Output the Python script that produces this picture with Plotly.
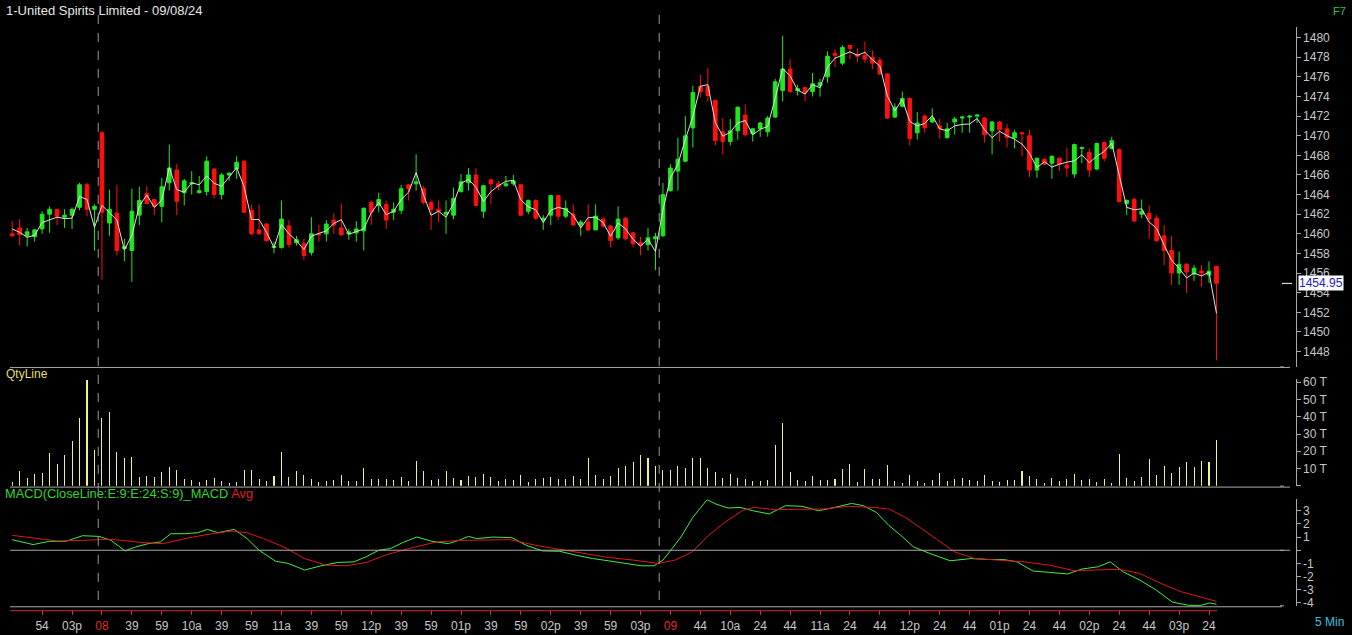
import plotly.graph_objects as go

# ---------------- data ----------------
opens = [1460.0, 1460.6, 1459.8, 1459.7, 1460.5, 1462.0, 1462.5, 1461.7, 1461.9, 1462.7,
         1465.0, 1462.5, 1470.3, 1461.1, 1462.1, 1458.5, 1458.3, 1461.9, 1464.1, 1463.5,
         1462.8, 1465.2, 1466.5, 1464.2, 1465.1, 1464.2, 1464.3, 1466.6, 1464.0, 1466.0,
         1466.6, 1467.4, 1462.4, 1460.4, 1461.0, 1458.6, 1458.6, 1460.8, 1459.1, 1459.0,
         1458.1, 1460.0, 1460.0, 1461.4, 1460.6, 1460.0, 1460.1, 1460.3, 1463.2, 1462.9,
         1463.0, 1462.2, 1462.4, 1465.0, 1465.1, 1464.6, 1463.2, 1462.5, 1462.0, 1461.9,
         1464.3, 1465.2, 1466.0, 1462.3, 1465.5, 1465.1, 1464.9, 1465.1, 1465.0, 1462.3,
         1463.4, 1461.4, 1461.9, 1463.9, 1461.8, 1462.0, 1460.9, 1461.2, 1460.4, 1461.5,
         1460.8, 1459.6, 1461.6, 1460.1, 1459.1, 1458.9, 1459.5, 1459.8, 1464.4, 1466.4,
         1467.4, 1470.8, 1475.0, 1475.0, 1473.6, 1470.4, 1469.4, 1470.5, 1472.1, 1470.2,
         1470.7, 1470.4, 1471.9, 1474.6, 1476.8, 1474.6, 1474.9, 1474.5, 1475.1, 1476.0,
         1478.4, 1477.4, 1479.2, 1478.3, 1478.2, 1478.0, 1477.7, 1476.3, 1471.9, 1473.0,
         1473.8, 1470.3, 1472.0, 1471.4, 1471.0, 1469.8, 1471.4, 1471.8, 1471.9, 1472.0,
         1471.8, 1470.5, 1471.4, 1470.7, 1469.8, 1470.3, 1470.0, 1466.5, 1467.6, 1467.2,
         1467.7, 1467.0, 1466.1, 1468.7, 1468.3, 1466.6, 1469.3, 1468.7, 1468.6, 1463.1,
         1463.5, 1462.0, 1462.1, 1461.6, 1459.8, 1458.3, 1456.0, 1456.9, 1455.9, 1456.2,
         1455.8, 1456.7]
highs = [1461.3, 1461.5, 1460.6, 1460.5, 1462.3, 1462.8, 1462.5, 1462.5, 1462.7, 1465.2,
         1465.2, 1463.0, 1470.5, 1464.5, 1465.0, 1459.5, 1464.6, 1464.8, 1464.9, 1463.5,
         1465.7, 1469.1, 1467.1, 1465.6, 1466.4, 1465.9, 1467.9, 1466.7, 1466.2, 1466.2,
         1467.9, 1467.5, 1463.0, 1463.0, 1461.1, 1459.2, 1463.4, 1461.4, 1459.8, 1459.5,
         1461.7, 1460.9, 1461.4, 1462.1, 1463.1, 1460.5, 1461.3, 1462.7, 1463.4, 1464.2,
         1463.4, 1463.2, 1465.0, 1465.1, 1468.1, 1464.9, 1463.4, 1463.4, 1463.4, 1464.7,
         1466.1, 1466.7, 1466.7, 1465.0, 1465.6, 1465.4, 1465.9, 1466.0, 1465.1, 1463.5,
         1463.5, 1461.9, 1463.9, 1464.0, 1463.4, 1463.0, 1461.4, 1463.0, 1463.0, 1461.7,
         1460.9, 1462.8, 1461.7, 1460.2, 1459.7, 1460.6, 1460.1, 1465.2, 1467.1, 1469.8,
         1472.0, 1475.1, 1476.2, 1476.9, 1473.7, 1471.8, 1471.7, 1473.0, 1473.2, 1470.8,
         1471.4, 1472.0, 1475.8, 1480.2, 1477.8, 1475.2, 1475.0, 1476.4, 1475.8, 1478.6,
         1478.8, 1479.2, 1479.3, 1478.9, 1479.6, 1478.7, 1478.0, 1476.4, 1473.3, 1474.5,
         1473.9, 1472.4, 1472.2, 1472.8, 1471.7, 1471.3, 1471.9, 1472.0, 1472.1, 1472.2,
         1471.9, 1471.5, 1471.5, 1471.2, 1470.6, 1470.4, 1470.6, 1467.8, 1467.7, 1468.0,
         1467.8, 1468.8, 1469.2, 1468.9, 1468.7, 1469.3, 1469.4, 1469.9, 1468.7, 1463.5,
         1463.7, 1463.5, 1462.9, 1461.9, 1460.9, 1459.8, 1458.2, 1457.0, 1456.8, 1456.8,
         1457.2, 1456.7]
lows = [1459.7, 1458.8, 1458.7, 1459.2, 1460.0, 1460.1, 1460.9, 1460.6, 1460.5, 1462.4,
        1461.8, 1458.3, 1455.3, 1459.8, 1457.8, 1457.2, 1455.1, 1460.9, 1463.0, 1461.9,
        1461.2, 1464.4, 1461.9, 1462.9, 1464.0, 1464.1, 1463.9, 1463.6, 1463.5, 1465.4,
        1465.6, 1462.1, 1459.9, 1459.9, 1459.2, 1458.0, 1458.5, 1458.6, 1458.8, 1457.3,
        1457.8, 1459.2, 1459.2, 1460.0, 1459.8, 1459.4, 1459.2, 1458.3, 1460.9, 1462.2,
        1460.5, 1461.4, 1462.0, 1463.4, 1464.4, 1463.0, 1460.4, 1461.2, 1460.0, 1461.5,
        1464.2, 1464.4, 1462.8, 1461.6, 1463.0, 1464.4, 1464.8, 1464.9, 1461.8, 1462.0,
        1461.4, 1460.4, 1460.9, 1461.4, 1461.6, 1460.8, 1459.8, 1460.3, 1460.4, 1460.6,
        1458.6, 1459.4, 1459.3, 1458.7, 1457.8, 1458.3, 1456.3, 1459.7, 1464.3, 1464.4,
        1467.3, 1468.8, 1473.9, 1473.5, 1469.0, 1468.1, 1469.0, 1469.6, 1469.9, 1469.4,
        1469.9, 1469.9, 1471.8, 1473.5, 1474.4, 1474.1, 1473.5, 1474.0, 1474.0, 1475.4,
        1477.0, 1477.2, 1477.8, 1477.5, 1477.4, 1476.8, 1476.2, 1471.7, 1471.8, 1472.9,
        1469.0, 1469.6, 1470.3, 1471.3, 1469.7, 1469.7, 1470.1, 1470.3, 1470.3, 1471.3,
        1469.3, 1468.1, 1469.4, 1468.8, 1468.7, 1467.9, 1465.8, 1465.7, 1467.0, 1465.6,
        1466.4, 1465.8, 1465.7, 1467.2, 1465.8, 1466.5, 1467.4, 1468.6, 1463.2, 1461.9,
        1461.2, 1461.6, 1459.5, 1459.2, 1456.8, 1454.8, 1454.8, 1454.0, 1455.2, 1454.6,
        1455.0, 1447.1]
closes = [1459.8, 1459.9, 1460.2, 1460.4, 1462.0, 1462.5, 1461.8, 1461.9, 1462.5, 1465.0,
          1462.5, 1462.8, 1462.2, 1462.5, 1458.3, 1458.7, 1462.3, 1463.4, 1463.1, 1462.8,
          1464.8, 1466.7, 1463.3, 1465.4, 1465.2, 1464.4, 1467.4, 1464.0, 1466.0, 1466.2,
          1467.3, 1462.2, 1460.0, 1460.0, 1459.3, 1458.7, 1461.5, 1458.9, 1459.4, 1457.8,
          1460.0, 1459.9, 1461.0, 1460.9, 1459.9, 1460.2, 1460.5, 1462.6, 1462.2, 1463.5,
          1461.4, 1462.5, 1464.6, 1464.6, 1465.3, 1463.2, 1462.5, 1462.3, 1462.2, 1463.6,
          1465.3, 1466.0, 1462.9, 1464.9, 1465.1, 1464.8, 1465.1, 1465.4, 1461.9, 1463.4,
          1461.6, 1461.6, 1463.9, 1461.8, 1462.6, 1460.9, 1461.2, 1460.4, 1461.8, 1460.8,
          1459.3, 1461.5, 1459.5, 1459.0, 1458.8, 1459.6, 1459.7, 1464.0, 1466.7, 1467.6,
          1470.0, 1474.4, 1474.5, 1474.1, 1469.5, 1469.4, 1470.5, 1472.9, 1470.1, 1470.7,
          1471.3, 1471.8, 1475.5, 1476.8, 1474.5, 1474.8, 1474.4, 1475.3, 1475.4, 1478.1,
          1478.2, 1479.0, 1478.9, 1478.1, 1477.8, 1477.4, 1476.3, 1471.8, 1472.9, 1473.8,
          1469.7, 1471.3, 1470.8, 1471.8, 1470.7, 1470.7, 1471.7, 1471.9, 1472.0, 1472.1,
          1470.1, 1471.4, 1470.6, 1469.8, 1470.3, 1470.2, 1466.5, 1467.7, 1467.1, 1467.9,
          1467.1, 1466.7, 1469.1, 1468.8, 1466.5, 1469.2, 1467.7, 1469.5, 1463.3, 1463.4,
          1461.3, 1462.3, 1461.5, 1459.3, 1458.3, 1456.0, 1456.9, 1456.1, 1456.5, 1456.0,
          1456.2, 1454.95]
volume_t = [2.1, 8.6, 4.6, 6.9, 7.4, 18.9, 12.6, 17.7, 25.8, 39.5,
            61.3, 20.6, 39.5, 42.9, 19.5, 16.0, 16.6, 5.2, 5.7, 5.2,
            7.8, 10.9, 9.2, 4.0, 3.4, 2.3, 3.2, 4.6, 2.9, 1.7,
            2.1, 9.2, 9.2, 4.0, 2.9, 5.7, 19.5, 5.2, 8.6, 6.3,
            4.0, 2.3, 2.9, 3.4, 6.3, 2.9, 2.9, 10.3, 4.0, 4.0,
            4.0, 3.4, 5.2, 2.9, 14.3, 8.6, 3.4, 4.0, 8.6, 4.6,
            3.4, 5.7, 5.2, 6.9, 5.2, 2.9, 4.0, 3.4, 6.3, 2.3,
            4.0, 4.6, 5.2, 4.0, 4.0, 5.7, 4.0, 16.0, 6.3, 4.0,
            5.7, 10.3, 11.5, 13.7, 17.7, 16.0, 11.5, 9.2, 9.2, 11.5,
            10.3, 16.0, 16.0, 10.3, 8.0, 4.6, 6.9, 4.6, 4.0, 2.9,
            2.9, 3.4, 23.5, 36.1, 8.0, 3.4, 2.9, 5.7, 3.4, 3.4,
            4.0, 9.7, 12.6, 2.3, 9.7, 4.0, 4.0, 12.0, 2.9, 1.7,
            6.3, 2.9, 1.7, 3.4, 7.4, 2.9, 4.0, 4.6, 3.4, 2.9,
            6.3, 2.9, 2.3, 3.4, 3.4, 8.6, 5.7, 4.0, 1.7, 4.6,
            2.9, 4.0, 6.9, 3.4, 4.0, 2.3, 4.0, 1.7, 18.3, 4.6,
            2.9, 5.2, 15.5, 6.3, 11.5, 7.4, 10.9, 13.7, 10.9, 14.3,
            13.7, 26.3]

macd_x = [0, 2.8, 5, 7.2, 9.4, 11.6, 13.2, 15.1, 16.5, 18.2, 19.8, 21.2, 23.1, 24.8, 26.1,
          27.5, 29.7, 31.4, 33, 35.2, 36.9, 39.1, 41.3, 43.5, 45.7, 47.3, 49, 50.6, 52.2,
          54.1, 56.1, 58.3, 59.7, 61, 62.1, 64.3, 66.8, 68.7, 70.9, 73.2, 75.4, 77.6, 79.7,
          82, 84.1, 85.8, 87, 88.3, 89.4, 91, 92.9, 94.1, 95.7, 97.3, 99, 101.2, 103.4,
          105.6, 107.8, 110, 112.2, 113.8, 115.5, 117.2, 118.8, 120.5, 122.7, 125.4, 128.2,
          130.3, 132.5, 134.3, 136.5, 138.7, 141.1, 143, 145.2, 146.8, 148.5, 150.7, 152.9,
          155.1, 157.3, 158.9, 160.1, 161]
macd_v = [0.8, 0.43, 0.68, 0.68, 1.1, 1.05, 0.75, -0.05, 0.25, 0.5, 0.63, 1.25, 1.25, 1.33,
          1.58, 1.33, 1.58, 0.88, 0.0, -0.83, -1.0, -1.5, -1.18, -0.93, -0.88, -0.5, 0.0,
          0.13, 0.58, 1.0, 0.68, 0.5, 0.75, 1.05, 0.88, 1.0, 0.95, 0.38, -0.05, -0.08, -0.38,
          -0.63, -0.8, -1.0, -1.18, -1.18, -0.75, 0.18, 1.0, 2.5, 3.83, 3.5, 3.2, 3.25, 3.0,
          2.75, 3.38, 3.33, 3.0, 3.25, 3.55, 3.38, 2.88, 1.88, 1.13, 0.25, -0.25, -0.8,
          -0.63, -0.7, -0.7, -0.88, -1.58, -1.68, -1.8, -1.43, -1.25, -0.88, -1.63, -2.25,
          -3.0, -3.93, -4.18, -4.18, -4.0, -4.1]
avg_x = [0, 2.8, 6.1, 9.4, 12.7, 14.8, 17.5, 20.2, 23.1, 25.9, 29.2, 31.4, 33.6, 36.3, 39.1,
         41.9, 44.6, 47.3, 50.1, 53.4, 56.7, 60, 63.3, 66.6, 69.9, 73.2, 76.5, 79.7, 83.1,
         86.4, 88.6, 90.9, 93.1, 95.3, 97.6, 99.2, 102, 105.3, 108.5, 111.8, 115, 117.2,
         119.4, 121.6, 123.8, 126, 128.7, 132, 135.3, 138.7, 141.9, 144.7, 148, 150.7,
         153.5, 156.2, 158.9, 161]
avg_v = [1.13, 0.95, 0.7, 0.75, 0.83, 0.75, 0.58, 0.5, 0.88, 1.18, 1.45, 1.33, 0.88, 0.25,
         -0.63, -1.13, -1.18, -0.93, -0.33, 0.18, 0.63, 0.75, 0.75, 0.8, 0.38, 0.08, -0.25,
         -0.55, -0.75, -1.0, -0.75, -0.13, 1.13, 2.13, 3.0, 3.25, 3.08, 3.13, 3.13, 3.33,
         3.25, 3.13, 2.5, 1.63, 0.75, -0.13, -0.63, -0.75, -0.88, -1.13, -1.55, -1.5, -1.45,
         -1.75, -2.5, -3.13, -3.58, -3.88]

tick_idx = list(range(4, 161, 4))
tick_labels = ["54", "03p", "08", "39", "59", "10a", "39", "59", "11a", "39", "59", "12p",
               "39", "59", "01p", "39", "59", "02p", "39", "59", "03p",
               "09", "44", "10a", "24", "44", "11a", "24", "44", "12p", "24", "44", "01p",
               "24", "44", "02p", "24", "44", "03p", "24"]
day_start_labels = {"08", "09"}
price_ticks = list(range(1448, 1481, 2))
vol_ticks = [0, 10, 20, 30, 40, 50, 60]
macd_ticks = [-4, -3, -2, -1, 0, 1, 2, 3]
last_price = 1454.95
session_breaks = [11.5, 86.5]

# ---------------- layout helpers ----------------
W, H = 1352, 635
FONT = "Liberation Sans"
GREEN = "#1fe81f"
RED = "#ff1010"
GREY = "#a8a8a8"
TXT = "#c8c8c8"


def py(p):
    return 1 - p / H


def px(p):
    return p / W


idx = list(range(len(closes)))
median = [(h + l) / 2 for h, l in zip(highs, lows)]

fig = go.Figure()
fig.add_trace(go.Candlestick(
    x=idx, open=opens, high=highs, low=lows, close=closes, yaxis="y",
    increasing=dict(line=dict(color=GREEN, width=1), fillcolor=GREEN),
    decreasing=dict(line=dict(color=RED, width=1), fillcolor=RED),
    whiskerwidth=0, hoverinfo="skip"))
fig.add_trace(go.Scatter(x=idx, y=median, mode="lines", yaxis="y",
                         line=dict(color="#e0e0e0", width=1), hoverinfo="skip"))
fig.add_trace(go.Bar(x=idx, y=volume_t, yaxis="y2", width=0.14,
                     marker=dict(color="#f2f08a", line=dict(width=0)), hoverinfo="skip"))
fig.add_trace(go.Scatter(x=macd_x, y=macd_v, mode="lines", yaxis="y3",
                         line=dict(color="#3ef03e", width=1), hoverinfo="skip"))
fig.add_trace(go.Scatter(x=avg_x, y=avg_v, mode="lines", yaxis="y3",
                         line=dict(color="#e01818", width=1), hoverinfo="skip"))

ticktext = [f'<span style="color:#e02828">{t}</span>' if t in day_start_labels else t
            for t in tick_labels]

x_left = -12.2 / 7.48
x_right = (1295.7 - 12.2) / 7.48

yax_common = dict(side="right", anchor="x", showgrid=False, zeroline=False, showline=True,
                  linecolor=GREY, linewidth=1, ticks="outside", ticklen=4, tickcolor=GREY,
                  tickfont=dict(family=FONT, size=12, color=TXT), fixedrange=True)

fig.update_layout(
    width=W, height=H, margin=dict(l=0, r=0, t=0, b=0),
    paper_bgcolor="black", plot_bgcolor="black", showlegend=False, hovermode=False,
    bargap=0,
    xaxis=dict(domain=[0, 1295.7 / W], range=[x_left, x_right], anchor="free",
               position=py(614), showgrid=False, zeroline=False, showline=False,
               ticks="outside", ticklen=4, tickcolor="#d03030", tickvals=tick_idx,
               ticktext=ticktext, tickangle=0,
               tickfont=dict(family=FONT, size=12, color=TXT),
               rangeslider=dict(visible=False), fixedrange=True),
    yaxis=dict(domain=[py(368), py(24)], range=[1446.43, 1481.11], tickvals=price_ticks,
               **yax_common),
    yaxis2=dict(domain=[py(488.2), py(380)], range=[0, 61.97], tickvals=vol_ticks,
                ticktext=["" if v == 0 else f"{v} T" for v in vol_ticks], **yax_common),
    yaxis3=dict(domain=[py(610), py(502)], range=[-4.25, 3.85], tickvals=macd_ticks,
                ticktext=["" if v == 0 else str(v) for v in macd_ticks], **yax_common),
)

shapes = []
for b in session_breaks:
    shapes.append(dict(type="line", xref="x", yref="paper", x0=b, x1=b, y0=py(12), y1=py(610),
                       line=dict(color="#9a9a9a", width=1, dash="dash")))
for yy in (368.5, 489.5):
    shapes.append(dict(type="line", xref="paper", yref="paper", x0=px(10), x1=px(1290),
                       y0=py(yy), y1=py(yy), line=dict(color=GREY, width=1)))
shapes.append(dict(type="line", xref="paper", yref="y3", x0=px(10), x1=px(1290), y0=0, y1=0,
                   line=dict(color=GREY, width=1)))
shapes.append(dict(type="line", xref="paper", yref="paper", x0=px(10), x1=px(1282),
                   y0=py(610.5), y1=py(610.5), line=dict(color=GREY, width=1)))
shapes.append(dict(type="line", xref="paper", yref="paper", x0=px(10), x1=px(1217),
                   y0=py(614.5), y1=py(614.5), line=dict(color="#d03030", width=1)))
shapes.append(dict(type="line", xref="paper", yref="y", x0=px(1282), x1=px(1292),
                   y0=last_price, y1=last_price, line=dict(color="white", width=1)))
for yy in (368, 488.5, 553.5, 609.5):
    shapes.append(dict(type="line", xref="paper", yref="paper", x0=px(1280), x1=px(1284),
                       y0=py(yy), y1=py(yy), line=dict(color=GREY, width=1)))
fig.update_layout(shapes=shapes)

ann = [
    dict(text="1-United Spirits Limited - 09/08/24", x=px(4), y=py(8), xanchor="left",
         yanchor="middle", font=dict(family=FONT, size=13, color="#e8e8e8")),
    dict(text="F7", x=px(1348), y=py(8), xanchor="right", yanchor="middle",
         font=dict(family=FONT, size=11, color="#2ecc2e")),
    dict(text="QtyLine", x=px(4), y=py(375), xanchor="left", yanchor="middle",
         font=dict(family=FONT, size=12, color="#e6df6a")),
    dict(text='<span style="color:#2ed82e">MACD(CloseLine:E:9:E:24:S:9)_MACD</span> '
              '<span style="color:#e02020">Avg</span>',
         x=px(3), y=py(496), xanchor="left", yanchor="middle",
         font=dict(family=FONT, size=12.8, color="#2ed82e")),
    dict(text="5 Min", x=px(1346), y=py(626), xanchor="right", yanchor="middle",
         font=dict(family=FONT, size=12, color="#3cc0e0")),
    dict(text=f"{last_price:.2f}", x=px(1298), y=last_price, yref="y", xanchor="left",
         yanchor="middle", bgcolor="white", borderpad=0,
         font=dict(family=FONT, size=12, color="#2020c0")),
]
for a in ann:
    a.setdefault("xref", "paper")
    a.setdefault("yref", "paper")
    a["showarrow"] = False
fig.update_layout(annotations=ann)

fig.write_html("out.html", config=dict(displayModeBar=False, staticPlot=True),
               post_script="document.body.style.margin='0px';document.body.style.overflow='hidden';")
